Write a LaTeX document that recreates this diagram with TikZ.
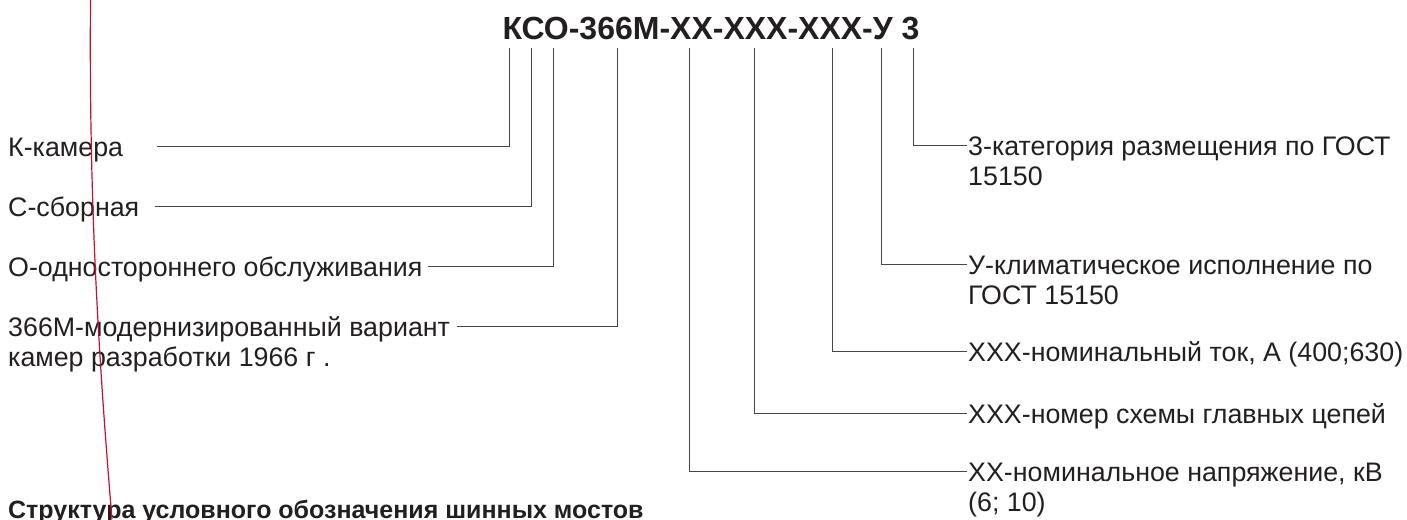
\documentclass[tikz,border=0pt]{standalone}
\usepackage{fontspec}
\setmainfont{Liberation Sans}
\definecolor{txt}{RGB}{35,31,32}
\definecolor{ln}{RGB}{70,70,70}
\definecolor{redln}{RGB}{200,16,46}
\begin{document}
\begin{tikzpicture}[x=1pt,y=1pt,
  lbl/.style={anchor=base west,inner sep=0pt,align=left,text=txt,font=\fontsize{26.8}{30}\selectfont},
  conn/.style={draw=ln,line width=1pt},
  ttl/.style={anchor=base,inner sep=0pt,text=txt,font=\fontsize{32}{36}\selectfont\bfseries}]
\useasboundingbox (0,0) rectangle (1407,519);
\clip (0,0) rectangle (1407,519);
% title
\node[ttl] (title) at (711,479) {КСО-366М-ХХ-ХХХ-ХХХ-У 3};
% tops of the leader lines
\coordinate (tK) at (509.3,471);
\coordinate (tC) at (531,471);
\coordinate (tO) at (553.3,471);
\coordinate (tM) at (617.7,471);
\coordinate (tXX) at (689.3,471);
\coordinate (tS) at (754,471);
\coordinate (tI) at (832.7,471);
\coordinate (tU) at (881.3,471);
\coordinate (t3) at (913.3,471);
% left labels
\node[lbl] (k) at (8,362.5) {К-камера};
\node[lbl] (c) at (8,302.5) {С-сборная};
\node[lbl] (o) at (8,242.5) {О-одностороннего обслуживания};
\node[lbl] (m) at (8,152.5) {366М-модернизированный вариант\\камер разработки 1966 г .};
\coordinate (sK) at (157,372);
\coordinate (sC) at (155,312);
\coordinate (sO) at (428,252);
\coordinate (sM) at (457,192);
\draw[conn] (sK) -| (tK);
\draw[conn] (sC) -| (tC);
\draw[conn] (sO) -| (tO);
\draw[conn] (sM) -| (tM);
% right labels
\node[lbl] (r3) at (968,333.5) {3-категория размещения по ГОСТ\\15150};
\node[lbl] (rU) at (968,214.5) {У-климатическое исполнение по\\ГОСТ 15150};
\node[lbl] (rI) at (968,157.5) {ХХХ-номинальный ток, А (400;630)};
\node[lbl] (rS) at (968,95.5) {ХХХ-номер схемы главных цепей};
\node[lbl] (rX) at (968,7.5) {ХХ-номинальное напряжение, кВ\\(6; 10)};
\draw[conn] (t3) |- ([xshift=-1pt,yshift=39.5pt]r3.base west);
\draw[conn] (tU) |- ([xshift=-1pt,yshift=39.5pt]rU.base west);
\draw[conn] (tI) |- ([xshift=-1pt,yshift=9.5pt]rI.base west);
\draw[conn] (tS) |- ([xshift=-1pt,yshift=9.5pt]rS.base west);
\draw[conn] (tXX) |- ([xshift=-1pt,yshift=39.5pt]rX.base west);
% bottom heading
\node[anchor=base west,inner sep=0pt,text=txt,font=\fontsize{25}{30}\selectfont\bfseries] (head) at (8,1) {Структура условного обозначения шинных мостов};
% red line
\draw[redln,line width=1.2pt] (90.5,519) .. controls (89,330) and (97,180) .. (112,0);
\end{tikzpicture}
\end{document}
